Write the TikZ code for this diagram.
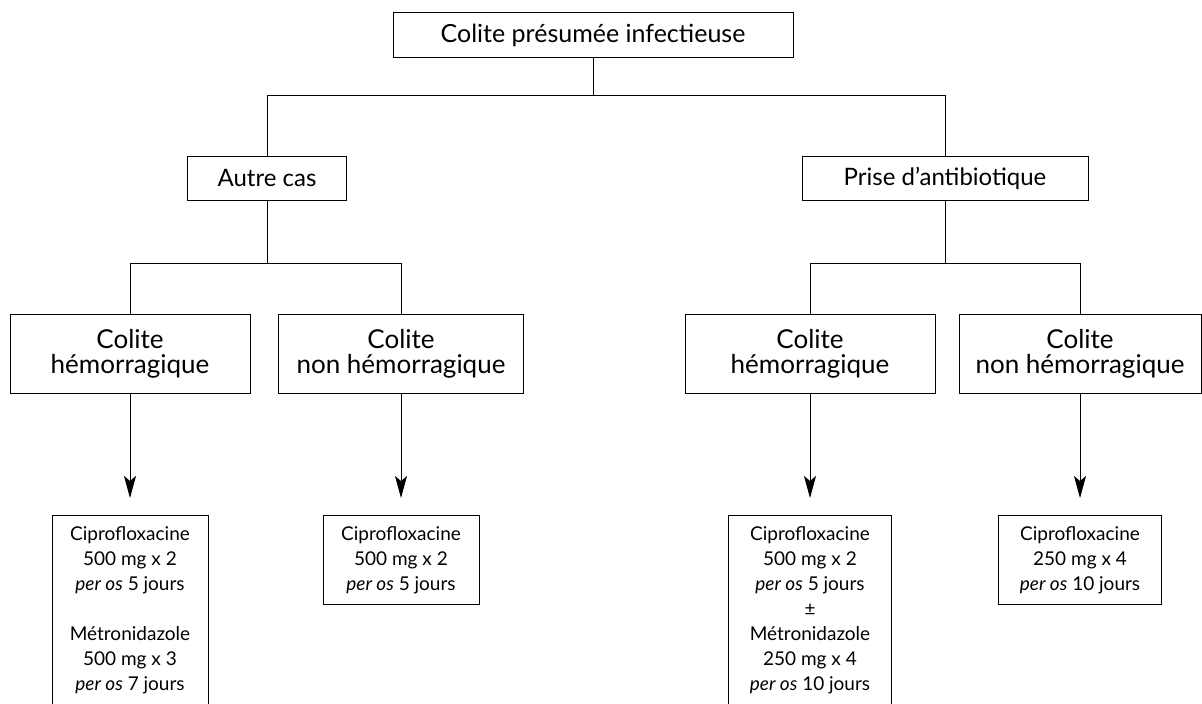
\documentclass[tikz,border=0pt]{standalone}
\usepackage{fontspec}
\setmainfont{Lato}
\usetikzlibrary{arrows.meta}

\begin{document}
\begin{tikzpicture}[x=0.5pt,y=-0.5pt,
    line width=0.5pt,
    stepbox/.style={draw, inner sep=0pt, align=center},
    cutbox/.style={draw, anchor=north, inner xsep=3pt, inner ysep=5.5pt, align=center,
      minimum width=78pt, font=\fontsize{9.5}{12.5}\selectfont},
    arr/.style={-{Stealth[length=11pt,width=6pt,inset=2.5pt]}, shorten >=8.5pt}]
          \clip (0,0) rectangle (1202,703);
          \begin{scope}[every node/.append style={stepbox}]
          \node [minimum width=200pt, minimum height=22.5pt, font=\fontsize{12.5}{12.5}\selectfont]
            (top) at (593,35) {Colite présumée infectieuse};
          \node [minimum width=79.5pt, minimum height=22pt, font=\fontsize{12}{12.5}\selectfont]
            (autre) at (267,178) {Autre cas};
          \node [minimum width=143pt, minimum height=22pt, font=\fontsize{12}{12.5}\selectfont]
            (prise) at (945,178) {Prise d’antibiotique};
          \node [minimum width=120pt, minimum height=39.5pt, font=\fontsize{13}{12.5}\selectfont]
            (c1) at (130,353.5) {Colite\\hémorragique};
          \node [minimum width=122.5pt, minimum height=39.5pt, font=\fontsize{13}{12.5}\selectfont]
            (c2) at (401,353.5) {Colite\\non hémorragique};
          \node [minimum width=125pt, minimum height=39.5pt, font=\fontsize{13}{12.5}\selectfont]
            (c3) at (810,353.5) {Colite\\hémorragique};
          \node [minimum width=121pt, minimum height=39.5pt, font=\fontsize{13}{12.5}\selectfont]
            (c4) at (1080,353.5) {Colite\\non hémorragique};
          \end{scope}

          \node [cutbox] (t1) at (130,515) {Ciprofloxacine\\500 mg x 2\\\textit{per os} 5 jours\\[12.5pt]Métronidazole\\500 mg x 3\\\textit{per os} 7 jours\\\mbox{}};
          \node [cutbox] (t2) at (401,515) {Ciprofloxacine\\500 mg x 2\\\textit{per os} 5 jours};
          \node [cutbox, minimum width=81.5pt] (t3) at (810,515) {Ciprofloxacine\\500 mg x 2\\\textit{per os} 5 jours\\±\\Métronidazole\\250 mg x 4\\\textit{per os} 10 jours\\\mbox{}};
          \node [cutbox, minimum width=81.5pt] (t4) at (1080,515) {Ciprofloxacine\\250 mg x 4\\\textit{per os} 10 jours};

          \coordinate (j0) at (593,95);
          \coordinate (j1) at (267,263);
          \coordinate (j2) at (945,263);

          \draw (top) -- (j0);
          \draw (j0) -| (autre);
          \draw (j0) -| (prise);
          \draw (autre) -- (j1);
          \draw (j1) -| (c1);
          \draw (j1) -| (c2);
          \draw (prise) -- (j2);
          \draw (j2) -| (c3);
          \draw (j2) -| (c4);

          \draw [arr] (c1) edge (t1);
          \draw [arr] (c2) edge (t2);
          \draw [arr] (c3) edge (t3);
          \draw [arr] (c4) edge (t4);
          \end{tikzpicture}
\end{document}
